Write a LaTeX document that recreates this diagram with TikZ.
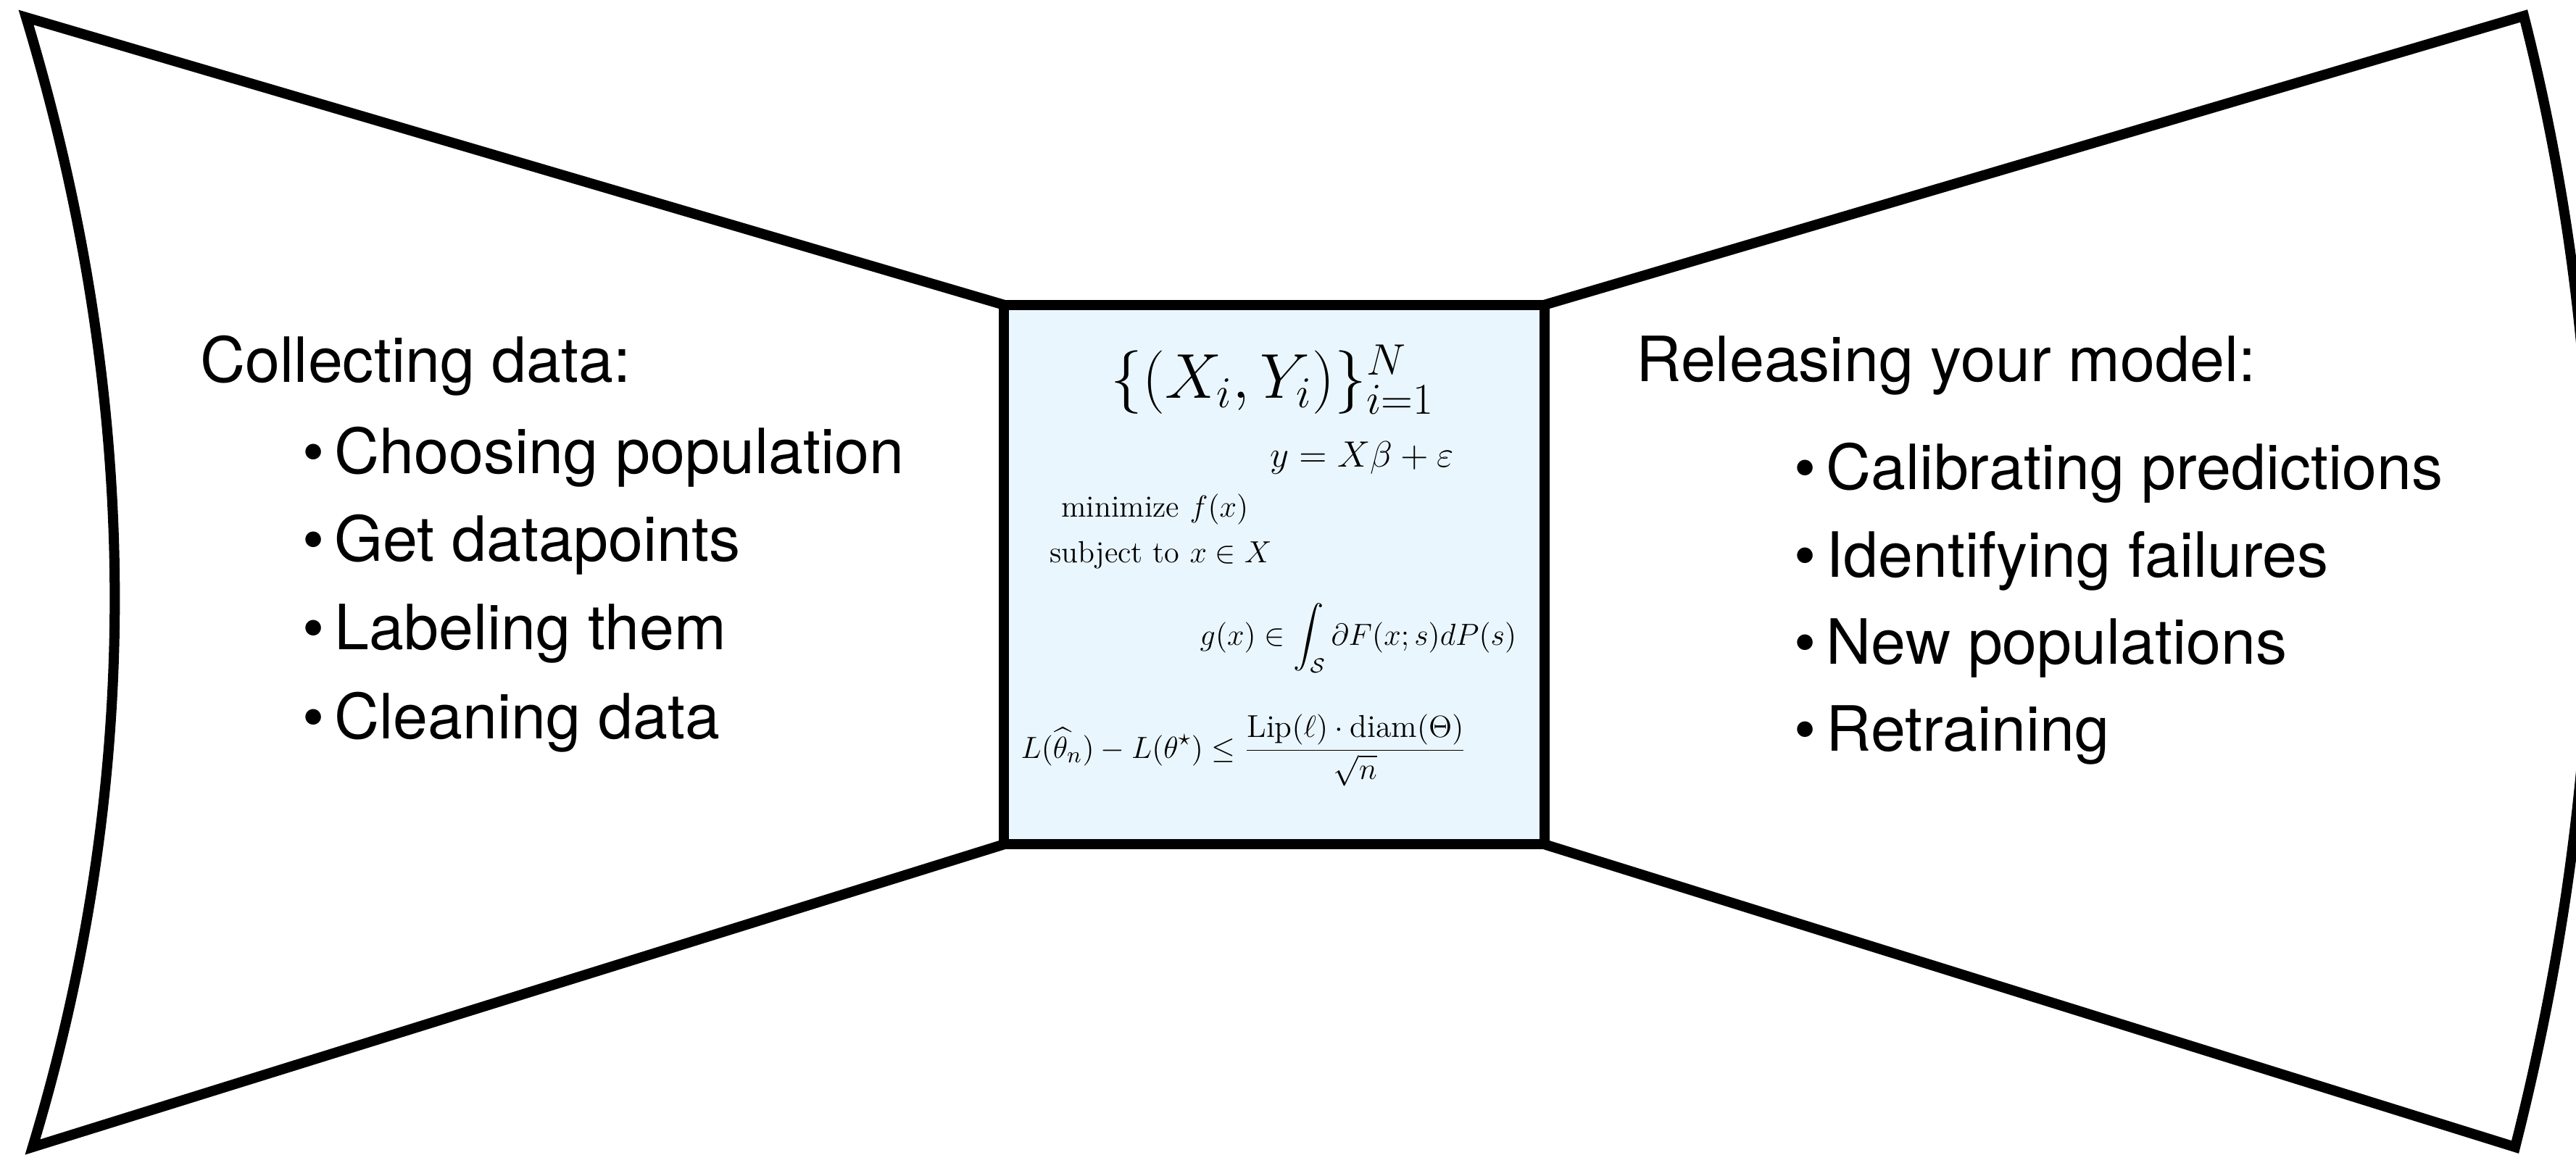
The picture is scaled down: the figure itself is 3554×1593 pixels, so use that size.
\documentclass[tikz,border=0pt]{standalone}
\usepackage{fontspec}
\usepackage{amsmath,amssymb}
\usetikzlibrary{backgrounds}
\newfontfamily\heros{TeX Gyre Heros}
\definecolor{boxblue}{RGB}{234,246,253}
\begin{document}
\begin{tikzpicture}[x=0.01cm,y=-0.01cm,
  wing/.style={line width=0.14cm, line join=miter},
  listtext/.style={font=\heros\fontsize{24.5}{29}\selectfont, anchor=base west, inner sep=0},
  mathtext/.style={font=\fontsize{12}{14}\selectfont, inner sep=0}]
\useasboundingbox (0,0) rectangle (3554,1593);
\clip (0,0) rectangle (3554,1593);
\coordinate (TL) at (36,24);
\coordinate (BL) at (45,1583);
\coordinate (TR) at (3482,22);
\coordinate (BR) at (3470,1583);
\node[draw, line width=0.14cm, fill=boxblue, outer sep=0, inner sep=0,
      minimum width=7.45cm, minimum height=7.44cm] (box) at (1758,793) {};
\begin{scope}[on background layer]
\draw[wing] (box.north west) -- (TL) .. controls (193,544) and (202,1063) .. (BL) -- (box.south west);
\draw[wing] (box.north east) -- (TR) .. controls (3614,542) and (3602,1063) .. (BR) -- (box.south east);
\end{scope}
% left text
\node[listtext] (lh) at (276,527) {Collecting data:};
\node[listtext] (l1) at (417,653) {\textbullet\hspace{0.16em}Choosing population};
\node[listtext] (l2) at (417,774) {\textbullet\hspace{0.16em}Get datapoints};
\node[listtext] (l3) at (417,896) {\textbullet\hspace{0.16em}Labeling them};
\node[listtext] (l4) at (417,1019) {\textbullet\hspace{0.16em}Cleaning data};
% right text
\node[listtext] (rh) at (2257,526) {Releasing your model:};
\node[listtext] (r1) at (2475,675) {\textbullet\hspace{0.16em}Calibrating predictions};
\node[listtext] (r2) at (2475,796) {\textbullet\hspace{0.16em}Identifying failures};
\node[listtext] (r3) at (2475,916) {\textbullet\hspace{0.16em}New populations};
\node[listtext] (r4) at (2475,1036) {\textbullet\hspace{0.16em}Retraining};
% math in box
\node[mathtext, font=\fontsize{26}{31}\selectfont, anchor=base] (m1) at (1756,549) {$\{(X_i,Y_i)\}_{i=1}^N$};
\node[mathtext, font=\fontsize{15.5}{18}\selectfont, anchor=base west] (m2) at (1752,644) {$y = X\beta + \varepsilon$};
\node[mathtext, anchor=base east] (m3a) at (1628,713) {minimize};
\node[mathtext, anchor=base west] (m3b) at (1641,713) {$f(x)$};
\node[mathtext, anchor=base east] (m4a) at (1628,776) {subject to};
\node[mathtext, anchor=base west] (m4b) at (1641,776) {$x \in X$};
\node[mathtext, anchor=base west] (m5) at (1655,890) {$\displaystyle g(x)\in\int_{\mathcal{S}}\partial F(x;s)dP(s)$};
\node[mathtext, font=\fontsize{12.4}{14}\selectfont, anchor=base west] (m6) at (1408,1046) {$\displaystyle L(\widehat{\theta}_n)-L(\theta^\star)\le\frac{\mathrm{Lip}(\ell)\cdot\mathrm{diam}(\Theta)}{\sqrt{n}}$};
\end{tikzpicture}
\end{document}
